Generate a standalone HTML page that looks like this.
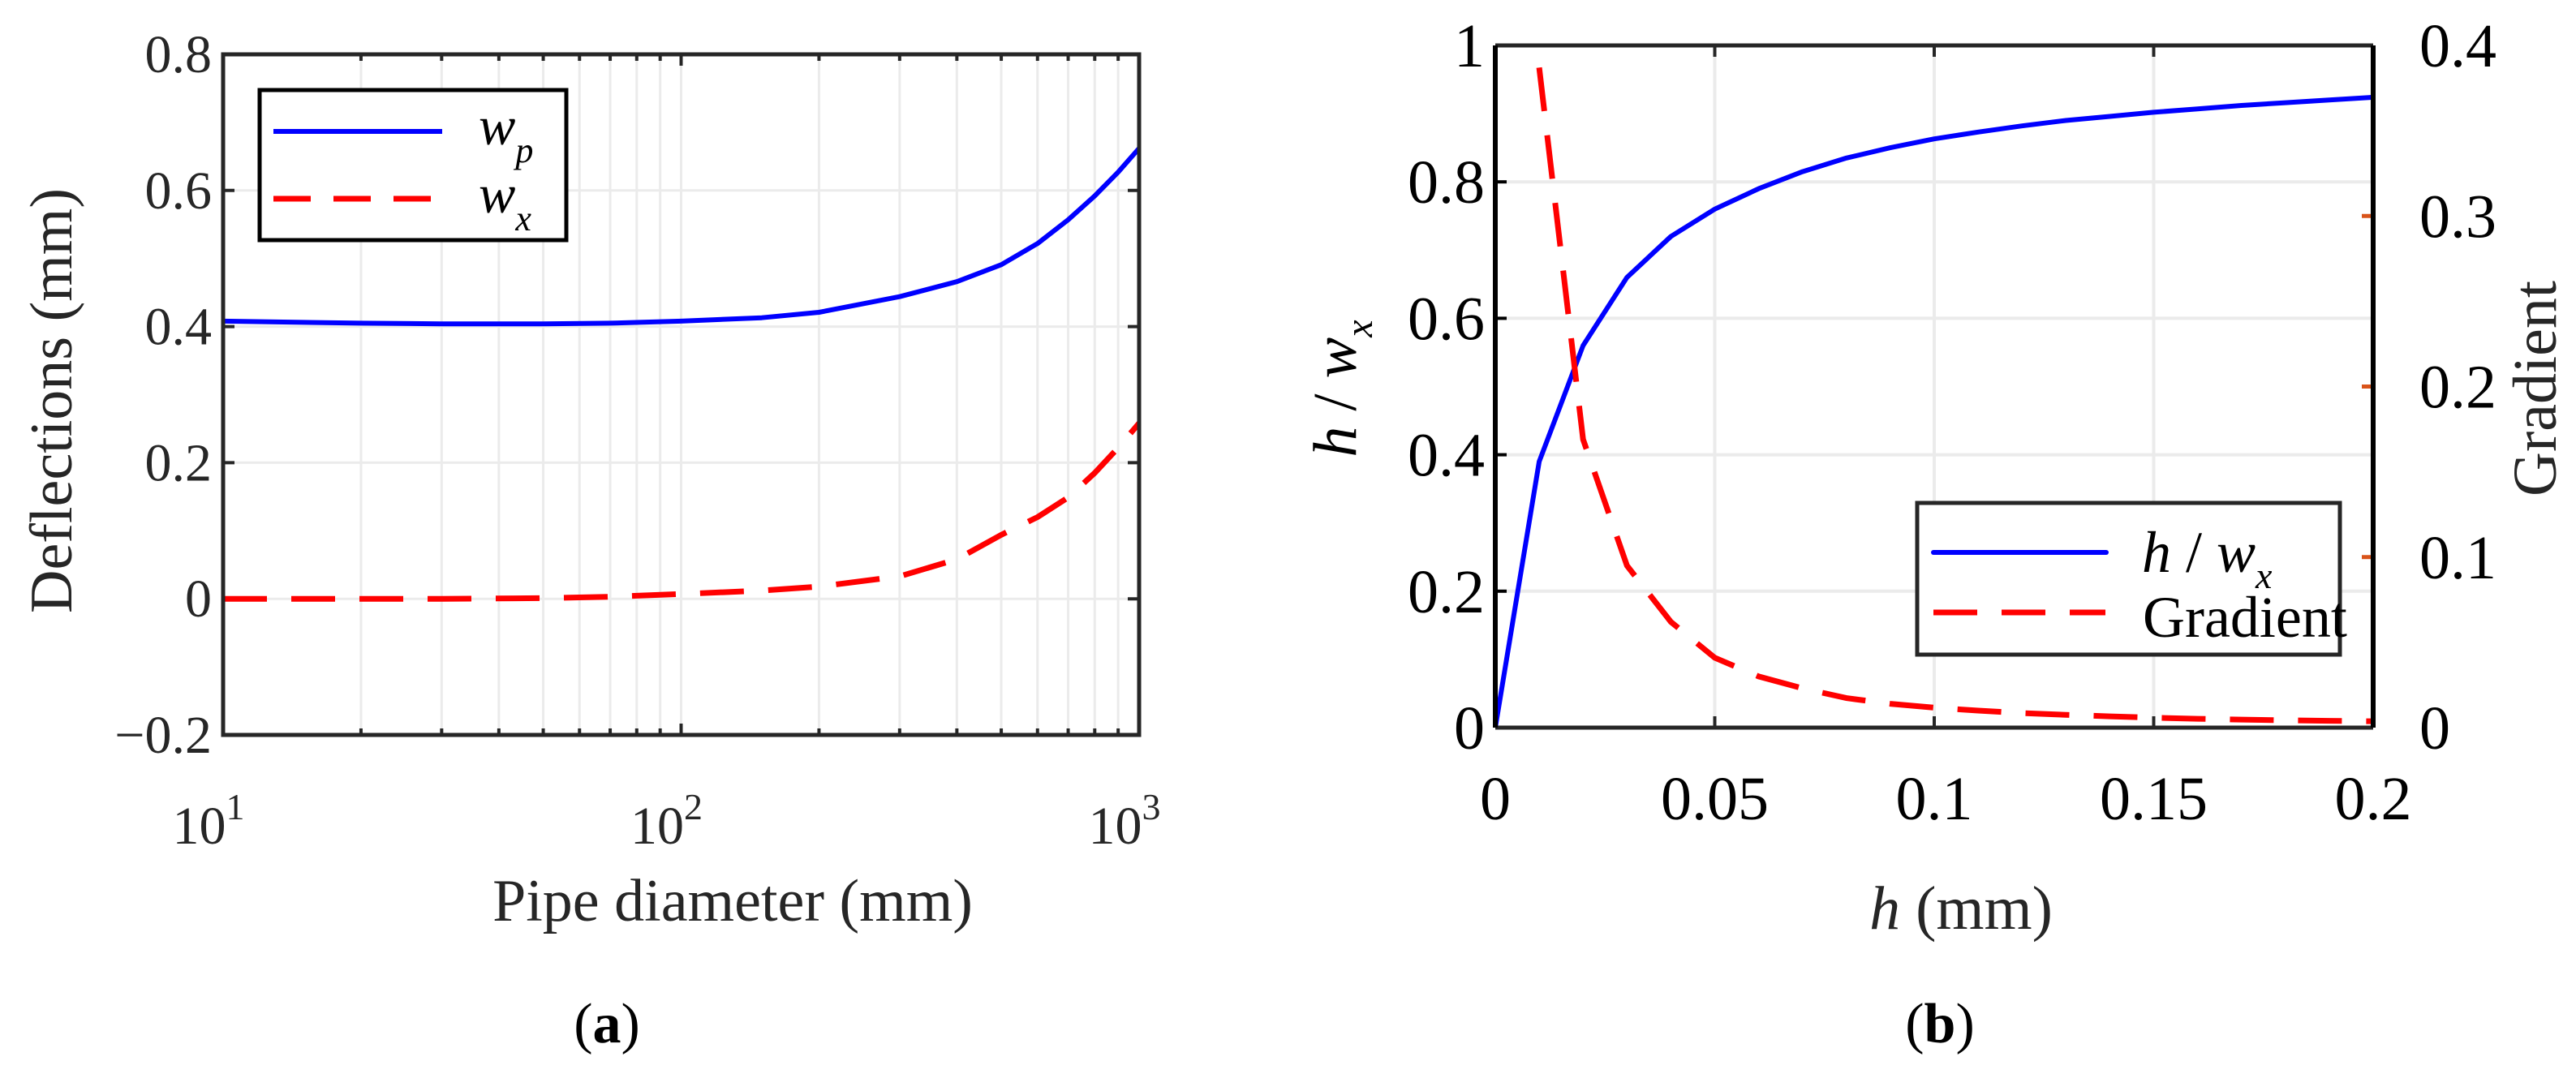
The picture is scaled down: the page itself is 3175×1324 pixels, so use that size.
<!DOCTYPE html>
<html><head><meta charset="utf-8"><style>
body{margin:0;background:#fff}
svg{display:block;font-family:"Liberation Serif",serif}
</style></head><body>
<svg id="s" width="3175" height="1324" viewBox="0 0 3175 1324" xmlns="http://www.w3.org/2000/svg"></svg>
<script>
// Panel (a) data
const diamA = [10, 20, 30, 50, 70, 100, 150, 200, 300, 400, 500, 600, 700, 800, 900, 1000];
const wpA   = [0.408, 0.405, 0.404, 0.404, 0.405, 0.408, 0.413, 0.421, 0.444, 0.466, 0.491, 0.522, 0.557, 0.592, 0.627, 0.662];
const wxA   = [0, 0, 0, 0.001, 0.003, 0.007, 0.012, 0.018, 0.033, 0.058, 0.094, 0.12, 0.149, 0.185, 0.222, 0.258];
const yTicksA = [-0.2, 0, 0.2, 0.4, 0.6, 0.8];
const yTickLabelsA = ["\u22120.2", "0", "0.2", "0.4", "0.6", "0.8"];
// Panel (b) data
const hB    = [0, 0.01, 0.02, 0.03, 0.04, 0.05, 0.06, 0.07, 0.08, 0.09, 0.1, 0.11, 0.12, 0.13, 0.14, 0.15, 0.16, 0.17, 0.18, 0.19, 0.2];
const ratioB = [0, 0.39, 0.56, 0.66, 0.72, 0.76, 0.79, 0.815, 0.835, 0.85, 0.863, 0.873, 0.882, 0.89, 0.896, 0.902, 0.907, 0.912, 0.916, 0.92, 0.924];
const gradH = [0.01, 0.02, 0.03, 0.04, 0.05, 0.06, 0.07, 0.08, 0.09, 0.1, 0.11, 0.12, 0.13, 0.14, 0.15, 0.16, 0.17, 0.18, 0.19, 0.2];
const gradB = [0.387, 0.169, 0.095, 0.062, 0.041, 0.030, 0.023, 0.0173, 0.014, 0.0117, 0.010, 0.0085, 0.0075, 0.0066, 0.0058, 0.0052, 0.0047, 0.0043, 0.004, 0.0037];
const xTicksB = [0, 0.05, 0.1, 0.15, 0.2];
const xTickLabelsB = ["0", "0.05", "0.1", "0.15", "0.2"];
const yTicksB = [0, 0.2, 0.4, 0.6, 0.8, 1];
const yTickLabelsB = ["0", "0.2", "0.4", "0.6", "0.8", "1"];
const y2TicksB = [0, 0.1, 0.2, 0.3, 0.4];
const y2TickLabelsB = ["0", "0.1", "0.2", "0.3", "0.4"];

const S = document.getElementById('s');
const NS = 'http://www.w3.org/2000/svg';
function mk(tag, at, txt){const e=document.createElementNS(NS,tag);for(const k in at)e.setAttribute(k,at[k]);if(txt!==undefined)e.textContent=txt;S.appendChild(e);return e;}

// ---------- Panel A ----------
const A = {l:275, r:1404, t:67, b:906};
const xa = v => A.l + (Math.log10(v)-1)/2*(A.r-A.l);
const ya = v => A.b - (v+0.2)/1.0*(A.b-A.t);
// grid
for (let d=1; d<=2; d++) for (let m=1; m<=9; m++) {
  const v = m*Math.pow(10,d); if (v<=10||v>=1000) continue;
  const g = mk('line',{x1:xa(v),x2:xa(v),y1:A.t,y2:A.b,stroke:'#ebebeb','stroke-width':3});
  
  
  const t1 = mk('line',{x1:xa(v),x2:xa(v),y1:A.b,y2:A.b-(m===1?14:8),stroke:'#262626','stroke-width':4});
  
  
  const t2 = mk('line',{x1:xa(v),x2:xa(v),y1:A.t,y2:A.t+(m===1?14:8),stroke:'#262626','stroke-width':4});
  
  
}
yTicksA.forEach((v,i)=>{
  const y=ya(v);
  if (i>0 && i<yTicksA.length-1){
    const g=mk('line',{x1:A.l,x2:A.r,y1:y,y2:y,stroke:'#ebebeb','stroke-width':3});
    
    
  }
  const t=mk('path',{d:`M${A.l} ${y}h14M${A.r} ${y}h-14`,stroke:'#262626','stroke-width':4});
  
  
  const lb=mk('text',{x:A.l-14,y:y+22,'text-anchor':'end','font-size':66,fill:'#262626'},yTickLabelsA[i]);
  
  
});
[[10,'1'],[100,'2'],[1000,'3']].forEach(([v,e])=>{
  const t=mk('text',{x:xa(v)-18,y:1040,'text-anchor':'middle','font-size':66,fill:'#262626'});
  
  
  t.innerHTML='10<tspan font-size="46" dy="-30">'+e+'</tspan>';
});
function pathOf(xs, ys, fx, fy){return xs.map((x,i)=>(i?'L':'M')+fx(x).toFixed(1)+' '+fy(ys[i]).toFixed(1)).join('');}
const pA1=mk('path',{d:pathOf(diamA,wpA,xa,ya),fill:'none',stroke:'#0000ff','stroke-width':6,'stroke-linejoin':'round'});


const pA2=mk('path',{d:pathOf(diamA,wxA,xa,ya),fill:'none',stroke:'#ff0000','stroke-width':7,'stroke-dasharray':'54 30'});


const bxA=mk('rect',{x:A.l,y:A.t,width:A.r-A.l,height:A.b-A.t,fill:'none',stroke:'#262626','stroke-width':5});


// legend A
const lgA=mk('rect',{x:320,y:111,width:378,height:185,fill:'#fff',stroke:'#000','stroke-width':5});


const l1=mk('line',{x1:337,x2:545,y1:162,y2:162,stroke:'#0000ff','stroke-width':6});


const l2=mk('line',{x1:337,x2:545,y1:245,y2:245,stroke:'#ff0000','stroke-width':7,'stroke-dasharray':'46 28'});


const lt1=mk('text',{x:590,y:178,'font-size':68,'font-style':'italic',fill:'#000'});


lt1.innerHTML='w<tspan font-size="44" dy="22">p</tspan>';
const lt2=mk('text',{x:590,y:262,'font-size':68,'font-style':'italic',fill:'#000'});


lt2.innerHTML='w<tspan font-size="44" dy="22">x</tspan>';
const xtA=mk('text',{x:903,y:1135,'text-anchor':'middle','font-size':74,fill:'#262626'},'Pipe diameter (mm)');


const ytA=mk('text',{x:0,y:0,'text-anchor':'middle','font-size':74,fill:'#262626',transform:'translate(88,494) rotate(-90)'},'Deflections (mm)');


const capA=mk('text',{x:748,y:1285,'text-anchor':'middle','font-size':70,fill:'#000'});


capA.innerHTML='(<tspan font-weight="bold">a</tspan>)';

// ---------- Panel B ----------
const B = {l:1843, r:2925, t:56, b:897};
const xb = v => B.l + v/0.2*(B.r-B.l);
const yb = v => B.b - v*(B.b-B.t);
const y2b = v => B.b - v/0.4*(B.b-B.t);
xTicksB.forEach((v,i)=>{
  const x=xb(v);
  if(i>0&&i<xTicksB.length-1){
    const g=mk('line',{x1:x,x2:x,y1:B.t,y2:B.b,stroke:'#ebebeb','stroke-width':4});
    
    
  }
  const t=mk('path',{d:`M${x} ${B.b}v-14M${x} ${B.t}v14`,stroke:'#262626','stroke-width':4});
  
  
  const lb=mk('text',{x:x,y:1010,'text-anchor':'middle','font-size':76,fill:'#000'},xTickLabelsB[i]);
  
  
});
yTicksB.forEach((v,i)=>{
  const y=yb(v);
  if(i>0&&i<yTicksB.length-1){
    const g=mk('line',{x1:B.l,x2:B.r,y1:y,y2:y,stroke:'#ebebeb','stroke-width':4});
    
    
  }
  const t=mk('line',{x1:B.l,x2:B.l+14,y1:y,y2:y,stroke:'#000','stroke-width':4});
  
  
  const lb=mk('text',{x:1830,y:y+26,'text-anchor':'end','font-size':76,fill:'#000'},yTickLabelsB[i]);
  
  
});
y2TicksB.forEach((v,i)=>{
  const y=y2b(v);
  const t=mk('line',{x1:B.r,x2:B.r-14,y1:y,y2:y,stroke:'#D95319','stroke-width':5});
  
  
  const lb=mk('text',{x:2982,y:y+26,'text-anchor':'start','font-size':76,fill:'#000'},y2TickLabelsB[i]);
  
  
});
const pB1=mk('path',{d:pathOf(hB,ratioB,xb,yb),fill:'none',stroke:'#0000ff','stroke-width':6,'stroke-linejoin':'round'});


const pB2=mk('path',{d:pathOf(gradH,gradB,xb,y2b),fill:'none',stroke:'#ff0000','stroke-width':7,'stroke-dasharray':'54 30'});


const ax1=mk('path',{d:`M${B.l} ${B.t}H${B.r}M${B.l} ${B.b}H${B.r}`,stroke:'#262626','stroke-width':5,fill:'none'});


const ax2=mk('path',{d:`M${B.l} ${B.t}V${B.b}M${B.r} ${B.t}V${B.b}`,stroke:'#000','stroke-width':6,fill:'none'});


// legend B
const lgB=mk('rect',{x:2363,y:620,width:521,height:187,fill:'#fff',stroke:'#262626','stroke-width':5});


const m1=mk('line',{x1:2383,x2:2596,y1:681,y2:681,stroke:'#0000ff','stroke-width':6,'stroke-linecap':'round'});


const m2=mk('line',{x1:2383,x2:2595,y1:755,y2:755,stroke:'#ff0000','stroke-width':7,'stroke-dasharray':'54 30'});


const mt1=mk('text',{x:2640,y:705,'font-size':72,fill:'#000'});


mt1.innerHTML='<tspan font-style="italic">h</tspan> / <tspan font-style="italic">w</tspan><tspan font-style="italic" font-size="46" dy="20">x</tspan>';
const mt2=mk('text',{x:2641,y:785,'font-size':72,fill:'#000'},'Gradient');


const xtB=mk('text',{x:2417,y:1145,'text-anchor':'middle','font-size':76,fill:'#262626'});


xtB.innerHTML='<tspan font-style="italic">h</tspan> (mm)';
const ytB=mk('text',{x:0,y:0,'text-anchor':'middle','font-size':76,fill:'#000',transform:'translate(1671,479) rotate(-90)'});


ytB.innerHTML='<tspan font-style="italic">h</tspan> / <tspan font-style="italic">w</tspan><tspan font-style="italic" font-size="48" dy="20">x</tspan>';
const y2t=mk('text',{x:0,y:0,'text-anchor':'middle','font-size':76,fill:'#262626',transform:'translate(3150,479) rotate(-90)'},'Gradient');


const capB=mk('text',{x:2391,y:1285,'text-anchor':'middle','font-size':70,fill:'#000'});


capB.innerHTML='(<tspan font-weight="bold">b</tspan>)';
</script>
</body></html>
